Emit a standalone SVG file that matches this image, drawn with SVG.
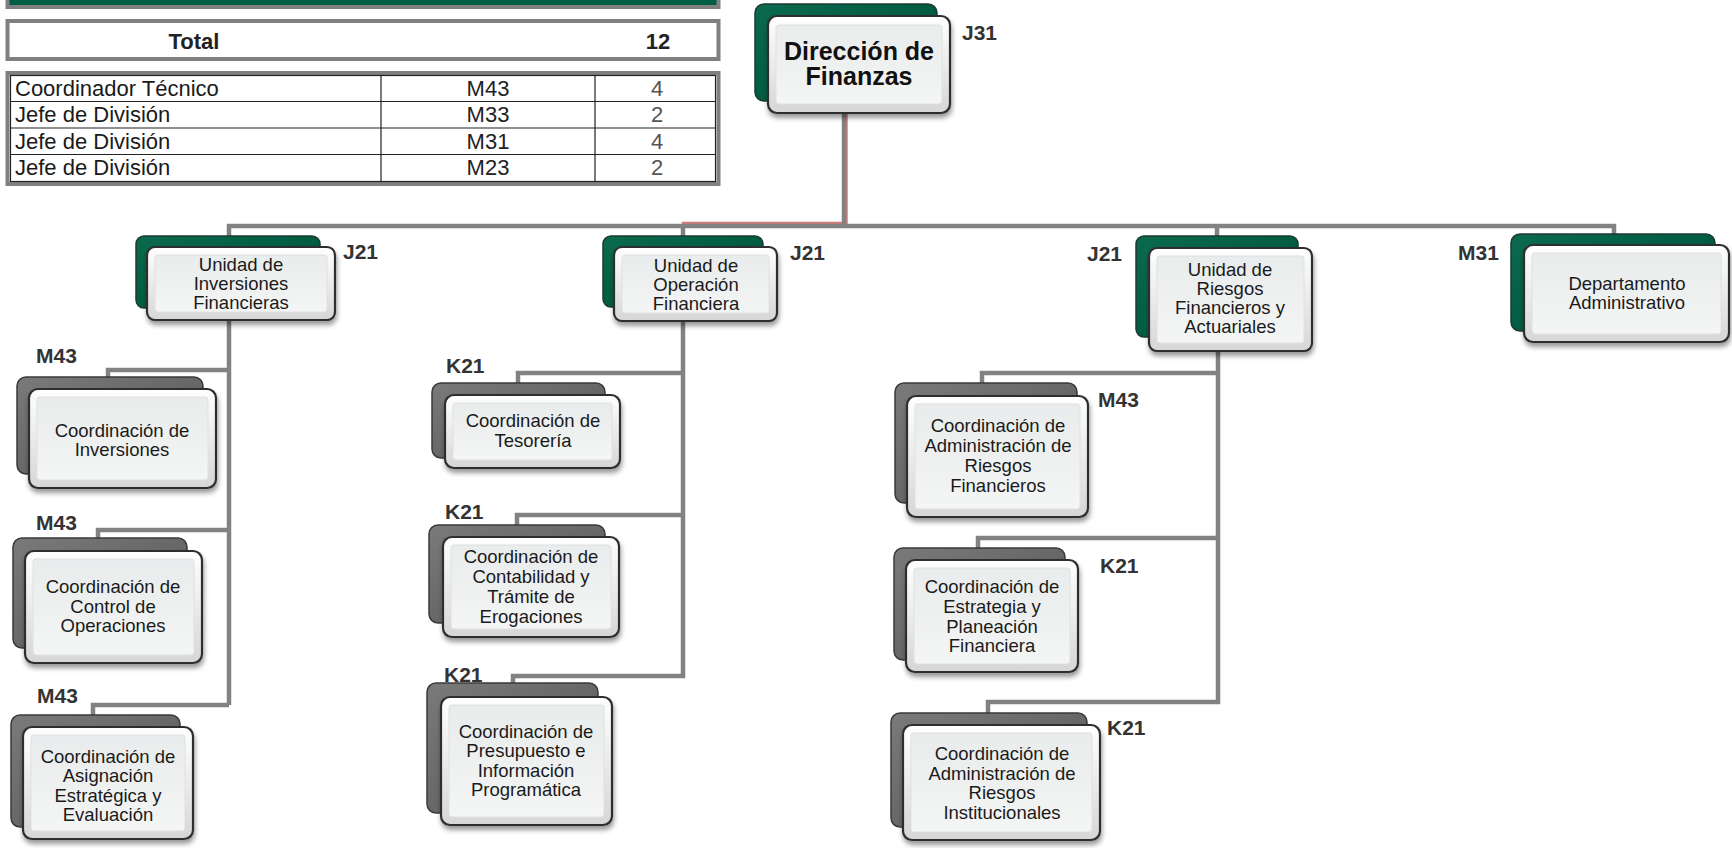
<svg xmlns="http://www.w3.org/2000/svg" width="1732" height="848" viewBox="0 0 1732 848">
<defs>
<linearGradient id="gGreen" x1="0" y1="0" x2="1" y2="1">
<stop offset="0" stop-color="#0b6a4e"/><stop offset="0.6" stop-color="#005a40"/><stop offset="1" stop-color="#004a35"/>
</linearGradient>
<linearGradient id="gGray" x1="0" y1="0" x2="1" y2="1">
<stop offset="0" stop-color="#7a7a7a"/><stop offset="1" stop-color="#555555"/>
</linearGradient>
<linearGradient id="gFront" x1="0" y1="0" x2="0" y2="1">
<stop offset="0" stop-color="#ffffff"/><stop offset="1" stop-color="#d6d6d6"/>
</linearGradient>
<linearGradient id="gInner" x1="0" y1="0" x2="0" y2="1">
<stop offset="0" stop-color="#e9ecec"/><stop offset="1" stop-color="#f4f5f5"/>
</linearGradient>
<filter id="sh" x="-10%" y="-10%" width="130%" height="140%">
<feDropShadow dx="1" dy="4" stdDeviation="2.5" flood-color="#000" flood-opacity="0.4"/>
</filter>
<style>
.bg{fill:url(#gGreen);stroke:#1e3a30;stroke-width:1.5}
.bk{fill:url(#gGray);stroke:#3a3a3a;stroke-width:1.5}
.fr{fill:url(#gFront);stroke:#2e2e2e;stroke-width:2.2;filter:url(#sh)}
.in{fill:url(#gInner);stroke:#e0e0e0;stroke-width:1}
.conn{fill:none;stroke:#828282;stroke-width:4.5;stroke-linejoin:miter}
.red{fill:none;stroke:#c45a55;stroke-width:2.5;opacity:0.8}
.t{font-family:"Liberation Sans",Arial,sans-serif;font-size:18.5px;fill:#1a1a1a;text-anchor:middle}
.tb{font-family:"Liberation Sans",Arial,sans-serif;font-size:25px;font-weight:bold;fill:#111;text-anchor:middle}
.lb{font-family:"Liberation Sans",Arial,sans-serif;font-size:21px;font-weight:bold;fill:#333}
.tt{font-family:"Liberation Sans",Arial,sans-serif;font-size:22px;fill:#1a1a1a}
.tn{font-family:"Liberation Sans",Arial,sans-serif;font-size:22px;fill:#555;text-anchor:middle}
.tc{font-family:"Liberation Sans",Arial,sans-serif;font-size:22px;fill:#222;text-anchor:middle}
.frame{fill:#fff;stroke:#808080;stroke-width:4}
.grid{stroke:#222;stroke-width:1.2;fill:none}
</style>
</defs>

<g id="summary">
<rect x="7.5" y="-10" width="711" height="17" fill="#005c45" stroke="#808080" stroke-width="4"/>
<rect class="frame" x="7.5" y="21" width="711" height="38"/>
<text x="194" y="49" class="tc" font-weight="bold" fill="#111">Total</text>
<text x="658" y="49" class="tc" font-weight="bold" fill="#111">12</text>
<rect class="frame" x="7.5" y="73" width="711" height="111"/>
<rect class="grid" x="10.5" y="75.5" width="705" height="106"/>
<line class="grid" x1="10.5" y1="101.5" x2="715.5" y2="101.5"/>
<line class="grid" x1="10.5" y1="128" x2="715.5" y2="128"/>
<line class="grid" x1="10.5" y1="154.5" x2="715.5" y2="154.5"/>
<line class="grid" x1="381" y1="75.5" x2="381" y2="181.5"/>
<line class="grid" x1="595" y1="75.5" x2="595" y2="181.5"/>
<text class="tt" x="15" y="96">Coordinador Técnico</text>
<text class="tt" x="15" y="122">Jefe de División</text>
<text class="tt" x="15" y="149">Jefe de División</text>
<text class="tt" x="15" y="175">Jefe de División</text>
<text class="tc" x="488" y="96">M43</text>
<text class="tc" x="488" y="122">M33</text>
<text class="tc" x="488" y="149">M31</text>
<text class="tc" x="488" y="175">M23</text>
<text class="tn" x="657" y="96">4</text>
<text class="tn" x="657" y="122">2</text>
<text class="tn" x="657" y="149">4</text>
<text class="tn" x="657" y="175">2</text>
</g>

<g id="connectors">
<path class="red" d="M846.5 113 V223 H683 V237"/>
<path class="conn" d="M683 226 V237" stroke="#c9504a" stroke-width="3.5"/>
<path class="conn" d="M844 113 V226" stroke-width="5"/>
<path class="conn" d="M229 236 V226 H1614 V234"/>
<path class="conn" d="M1217 226 V236"/>
<path class="conn" d="M229 320 V705"/>
<path class="conn" d="M229 370 H108 V377"/>
<path class="conn" d="M229 530 H98 V538"/>
<path class="conn" d="M229 705 H93 V715"/>
<path class="conn" d="M683 321 V676 H513 V683"/>
<path class="conn" d="M683 373 H518 V383"/>
<path class="conn" d="M683 515 H517 V525"/>
<path class="conn" d="M1218 351 V702 H988 V713"/>
<path class="conn" d="M1218 373 H982 V383"/>
<path class="conn" d="M1218 538 H978 V548"/>
</g>

<g id="n-direccion">
<rect class="bg" x="755" y="4" width="182" height="97" rx="9"/>
<rect class="fr" x="768" y="16" width="182" height="97" rx="9"/>
<rect class="in" x="776" y="25" width="166" height="79" rx="3"/>
<text class="tb" x="859" y="60">Dirección de</text>
<text class="tb" x="859" y="85">Finanzas</text>
<text class="lb" x="962" y="40">J31</text>
</g>

<g id="n-inversiones-unidad">
<rect class="bg" x="136" y="236" width="184" height="72" rx="8"/>
<rect class="fr" x="147" y="247" width="188" height="73" rx="8"/>
<rect class="in" x="155" y="255" width="172" height="57" rx="3"/>
<text class="t" x="241" y="271">Unidad de</text>
<text class="t" x="241" y="290">Inversiones</text>
<text class="t" x="241" y="309">Financieras</text>
<text class="lb" x="343" y="259">J21</text>
</g>

<g id="n-operacion-unidad">
<rect class="bg" x="603" y="236" width="160" height="71" rx="8"/>
<rect class="fr" x="614" y="247" width="163" height="74" rx="8"/>
<rect class="in" x="622" y="255" width="147" height="58" rx="3"/>
<text class="t" x="696" y="272">Unidad de</text>
<text class="t" x="696" y="291">Operación</text>
<text class="t" x="696" y="310">Financiera</text>
<text class="lb" x="790" y="260">J21</text>
</g>

<g id="n-riesgos-unidad">
<rect class="bg" x="1136" y="236" width="162" height="101" rx="8"/>
<rect class="fr" x="1149" y="248" width="163" height="103" rx="8"/>
<rect class="in" x="1157" y="256" width="147" height="87" rx="3"/>
<text class="t" x="1230" y="276">Unidad de</text>
<text class="t" x="1230" y="295">Riesgos</text>
<text class="t" x="1230" y="314">Financieros y</text>
<text class="t" x="1230" y="333">Actuariales</text>
<text class="lb" x="1087" y="261">J21</text>
</g>

<g id="n-departamento">
<rect class="bg" x="1511" y="234" width="204" height="97" rx="9"/>
<rect class="fr" x="1524" y="245" width="205" height="97" rx="9"/>
<rect class="in" x="1532" y="253" width="189" height="81" rx="3"/>
<text class="t" x="1627" y="290">Departamento</text>
<text class="t" x="1627" y="309">Administrativo</text>
<text class="lb" x="1458" y="260">M31</text>
</g>

<g id="n-coord-inversiones">
<rect class="bk" x="17" y="377" width="186" height="97" rx="9"/>
<rect class="fr" x="29" y="389" width="187" height="99" rx="9"/>
<rect class="in" x="37" y="397" width="171" height="83" rx="3"/>
<text class="t" x="122" y="437">Coordinación de</text>
<text class="t" x="122" y="456">Inversiones</text>
<text class="lb" x="36" y="363">M43</text>
</g>

<g id="n-coord-control">
<rect class="bk" x="13" y="538" width="174" height="110" rx="9"/>
<rect class="fr" x="25" y="551" width="177" height="112" rx="9"/>
<rect class="in" x="33" y="559" width="161" height="96" rx="3"/>
<text class="t" x="113" y="593">Coordinación de</text>
<text class="t" x="113" y="613">Control de</text>
<text class="t" x="113" y="632">Operaciones</text>
<text class="lb" x="36" y="530">M43</text>
</g>

<g id="n-coord-asignacion">
<rect class="bk" x="11" y="715" width="169" height="112" rx="9"/>
<rect class="fr" x="23" y="727" width="170" height="112" rx="9"/>
<rect class="in" x="31" y="735" width="154" height="96" rx="3"/>
<text class="t" x="108" y="763">Coordinación de</text>
<text class="t" x="108" y="782">Asignación</text>
<text class="t" x="108" y="802">Estratégica y</text>
<text class="t" x="108" y="821">Evaluación</text>
<text class="lb" x="37" y="703">M43</text>
</g>

<g id="n-coord-tesoreria">
<rect class="bk" x="432" y="383" width="173" height="75" rx="9"/>
<rect class="fr" x="445" y="395" width="175" height="73" rx="9"/>
<rect class="in" x="453" y="403" width="159" height="57" rx="3"/>
<text class="t" x="533" y="427">Coordinación de</text>
<text class="t" x="533" y="447">Tesorería</text>
<text class="lb" x="446" y="373">K21</text>
</g>

<g id="n-coord-contabilidad">
<rect class="bk" x="429" y="525" width="176" height="98" rx="9"/>
<rect class="fr" x="443" y="537" width="176" height="100" rx="9"/>
<rect class="in" x="451" y="545" width="160" height="84" rx="3"/>
<text class="t" x="531" y="563">Coordinación de</text>
<text class="t" x="531" y="583">Contabilidad y</text>
<text class="t" x="531" y="603">Trámite de</text>
<text class="t" x="531" y="623">Erogaciones</text>
<text class="lb" x="445" y="519">K21</text>
</g>

<g id="n-coord-presupuesto">
<rect class="bk" x="427" y="683" width="171" height="130" rx="9"/>
<rect class="fr" x="441" y="697" width="171" height="128" rx="9"/>
<rect class="in" x="449" y="705" width="155" height="112" rx="3"/>
<text class="t" x="526" y="738">Coordinación de</text>
<text class="t" x="526" y="757">Presupuesto e</text>
<text class="t" x="526" y="777">Información</text>
<text class="t" x="526" y="796">Programática</text>
<text class="lb" x="444" y="682">K21</text>
</g>

<g id="n-coord-riesgos-financieros">
<rect class="bk" x="895" y="383" width="182" height="120" rx="9"/>
<rect class="fr" x="907" y="396" width="181" height="121" rx="9"/>
<rect class="in" x="915" y="404" width="165" height="105" rx="3"/>
<text class="t" x="998" y="432">Coordinación de</text>
<text class="t" x="998" y="452">Administración de</text>
<text class="t" x="998" y="472">Riesgos</text>
<text class="t" x="998" y="492">Financieros</text>
<text class="lb" x="1098" y="407">M43</text>
</g>

<g id="n-coord-estrategia">
<rect class="bk" x="894" y="548" width="171" height="112" rx="9"/>
<rect class="fr" x="906" y="560" width="172" height="112" rx="9"/>
<rect class="in" x="914" y="568" width="156" height="96" rx="3"/>
<text class="t" x="992" y="593">Coordinación de</text>
<text class="t" x="992" y="613">Estrategia y</text>
<text class="t" x="992" y="633">Planeación</text>
<text class="t" x="992" y="652">Financiera</text>
<text class="lb" x="1100" y="573">K21</text>
</g>

<g id="n-coord-riesgos-institucionales">
<rect class="bk" x="891" y="713" width="196" height="114" rx="9"/>
<rect class="fr" x="903" y="725" width="197" height="115" rx="9"/>
<rect class="in" x="911" y="733" width="181" height="99" rx="3"/>
<text class="t" x="1002" y="760">Coordinación de</text>
<text class="t" x="1002" y="780">Administración de</text>
<text class="t" x="1002" y="799">Riesgos</text>
<text class="t" x="1002" y="819">Institucionales</text>
<text class="lb" x="1107" y="735">K21</text>
</g>
</svg>
